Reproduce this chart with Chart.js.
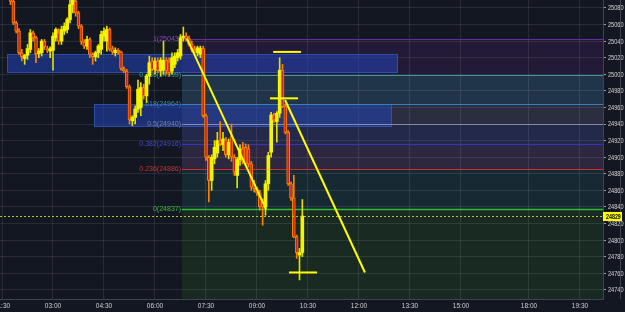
<!DOCTYPE html>
<html>
<head>
<meta charset="utf-8">
<script src="https://cdn.jsdelivr.net/npm/chart.js@4.4.1/dist/chart.umd.min.js"></script>
<style>
html,body{margin:0;padding:0;background:#131722;overflow:hidden}
canvas{display:block}
</style>
</head>
<body>
<canvas id="chart" width="625" height="312"></canvas>
<script>
// ================= DATA =================
// 5-minute candles, index 0 = 01:30 (session hours, 16:00-17:00 break removed)
const opens  = [25104,25099,25096,25094,25088,25062,25052,25026,25019,25023,25030,25050,25044,25025,25026,25040,25030,25028,25029,25044,25050,25040,25052,25054,25066,25084,25088,25074,25058,25039,25034,25042,25024,25021,25026,25030,25046,25040,25054,25031,25026,25029,25027,25007,25004,24985,24944,24948,24958,24960,24984,24974,24998,25016,25006,25016,25004,25005,25017,25015,25004,25012,25020,25022,25044,25046,25043,25036,25030,25026,25024,25031,24950,24900,24872,24898,24905,24920,24915,24921,24903,24925,24900,24878,24897,24910,24912,24910,24892,24868,24862,24857,24846,24840,24868,24906,24951,24943,24953,25005,24961,24930,24868,24851,24804,24782,24785];
const highs  = [25110,25104,25101,25097,25090,25064,25055,25030,25024,25036,25054,25052,25046,25031,25042,25042,25034,25033,25050,25056,25055,25058,25062,25068,25090,25096,25094,25076,25060,25042,25046,25044,25026,25028,25036,25052,25056,25058,25056,25034,25032,25031,25028,25009,25006,24987,24950,24962,24993,24990,24988,25000,25022,25020,25020,25020,25020,25040,25020,25020,25026,25026,25030,25048,25057,25050,25046,25040,25034,25034,25034,25034,24952,24902,24903,24920,24930,24943,24930,24924,24922,24940,24903,24900,24915,24918,24916,24915,24895,24872,24864,24860,24850,24872,24906,24954,24953,24955,25020,25012,24964,24932,24870,24878,24806,24790,24849];
const lows   = [25096,25093,25091,25084,25060,25050,25024,25016,25012,25018,25026,25040,25014,25020,25022,25030,25026,25020,25005,25040,25036,25036,25048,25050,25062,25074,25070,25055,25036,25031,25030,25020,25012,25016,25020,25024,25040,25028,25028,25024,25022,25024,25005,25002,24983,24940,24938,24940,24954,24950,24970,24966,24988,25004,25000,25002,24998,25000,25000,24998,25000,25008,25016,25018,25040,25040,25034,25027,25024,25022,25020,24948,24896,24846,24860,24892,24900,24914,24908,24900,24898,24895,24878,24863,24890,24892,24890,24888,24860,24858,24854,24836,24818,24830,24860,24900,24942,24918,24948,24960,24928,24866,24848,24803,24778,24752,24780];
const closes = [25099,25096,25094,25088,25062,25052,25026,25021,25023,25031,25050,25044,25025,25028,25040,25033,25029,25031,25046,25054,25040,25054,25058,25066,25084,25090,25074,25058,25039,25034,25042,25024,25021,25026,25034,25048,25052,25054,25030,25027,25029,25027,25007,25004,24985,24945,24948,24958,24982,24984,24974,24998,25014,25006,25016,25004,25017,25017,25004,25002,25020,25022,25026,25044,25046,25043,25036,25030,25028,25032,25031,24950,24900,24872,24900,24912,24920,24916,24922,24903,24918,24900,24882,24897,24910,24895,24892,24892,24864,24862,24857,24840,24840,24868,24902,24951,24945,24953,25005,24961,24930,24868,24851,24804,24785,24785,24829];

// time axis ticks (candle index) and labels
const xTickIdx    = [0, 18, 36, 54, 72, 90, 108, 126, 144, 162, 186, 204];
const xTickLabels = ["01:30","03:00","04:30","06:00","07:30","09:00","10:30","12:00","13:30","15:00","18:00","19:30"];
const yTickValues = [24740,24760,24780,24800,24820,24840,24860,24880,24900,24920,24940,24960,24980,25000,25020,25040,25060,25080];

// fibonacci retracement
const fibRatios = ["1","0.786","0.618","0.5","0.382","0.236","0"];
const fibPrices = [25043, 24999, 24964, 24940, 24916, 24886, 24837];
const fibStartIdx = 63.5;

// supply / demand zones
const zoneStart  = [1.8, 32.5];
const zoneEnd    = [139.7, 137.6];
const zoneTop    = [25024, 24964];
const zoneBottom = [25002, 24937];

// drawn trend lines
const trendX1 = [65.3, 99.9];
const trendY1 = [25043, 24969];
const trendX2 = [93.2, 128.1];
const trendY2 = [24837, 24761];

// short horizontal markers
const markX1 = [95.7, 94.6, 101.3];
const markX2 = [105.5, 104.5, 111.2];
const markPrice = [25027, 24971, 24761];

const lastPrice = 24829;

// ================= STYLE =================
const BG = "#131722";
const UP = "#f4f400";
const DOWN_FILL = "#c9261a";
const DOWN_EDGE = "#ff7f00";
const FONT = '"Liberation Sans", Arial, sans-serif';
const fibLineColors  = ["#6b2c9c","#3a9e98","#3a7fb8","#8a8aa6","#3434c4","#cc2f2f","#2fbf2f"];
const fibLabelColors = ["#9a3fc8","#3aa89a","#3d8fb5","#7b809c","#4848d0","#c83434","#34c034"];
const fibBandColors  = ["#221a37","#20344a","#2b2e40","#22294b","#2d2740","#172a33","#182a22"];

const isUp = i => closes[i] >= opens[i];
const idx = opens.map((_, i) => i);

// narrow text: squeeze horizontally so 5 digits fit the thin price axis
function narrowText(ctx, txt, x, y, squeeze){
    ctx.save();
    ctx.translate(x, y);
    ctx.scale(squeeze, 1);
    ctx.fillText(txt, 0, 0);
    ctx.restore();
}

// ================= OVERLAY PLUGIN =================
const overlay = {
    id: "overlay",
    beforeDraw(chart){
        const {ctx, chartArea: a, scales: {x, y}} = chart;
        ctx.save();
        ctx.fillStyle = BG;
        ctx.fillRect(0, 0, chart.width, chart.height);
        const fx = Math.round(x.getPixelForValue(fibStartIdx));
        fibPrices.forEach((p, i) => {
            const top = Math.round(y.getPixelForValue(p));
            const bot = i < fibPrices.length - 1 ? Math.round(y.getPixelForValue(fibPrices[i+1])) : a.bottom;
            ctx.fillStyle = fibBandColors[i];
            ctx.fillRect(fx, top, a.right - fx, bot - top);
        });
        ctx.restore();
    },
    beforeDatasetsDraw(chart){
        const {ctx, chartArea: a, scales: {x, y}} = chart;
        ctx.save();
        // zones
        zoneStart.forEach((s, i) => {
            const x0 = Math.round(x.getPixelForValue(s));
            const x1 = Math.round(x.getPixelForValue(zoneEnd[i]));
            const y0 = Math.round(y.getPixelForValue(zoneTop[i]));
            const y1 = Math.round(y.getPixelForValue(zoneBottom[i]));
            ctx.fillStyle = "rgba(34,66,180,0.56)";
            ctx.fillRect(x0, y0, x1 - x0, y1 - y0);
            ctx.strokeStyle = "rgba(60,100,215,0.55)";
            ctx.lineWidth = 1;
            ctx.strokeRect(x0 + 0.5, y0 + 0.5, x1 - x0 - 1, y1 - y0 - 1);
        });
        // fib lines + labels
        const fx = Math.round(x.getPixelForValue(fibStartIdx));
        ctx.font = "7px " + FONT;
        ctx.textAlign = "right";
        ctx.textBaseline = "middle";
        fibPrices.forEach((p, i) => {
            const py = Math.round(y.getPixelForValue(p)) + 0.5;
            ctx.strokeStyle = fibLineColors[i];
            ctx.lineWidth = i === fibPrices.length - 1 ? 1.5 : 1;
            ctx.beginPath();
            ctx.moveTo(fx, py);
            ctx.lineTo(a.right, py);
            ctx.stroke();
            ctx.fillStyle = fibLabelColors[i];
            ctx.fillText(fibRatios[i] + "(" + p + ")", fx - 1, py);
        });
        ctx.restore();
    },
    afterDraw(chart){
        const {ctx, chartArea: a, scales: {x, y}} = chart;
        ctx.save();
        // price axis labels
        ctx.font = "7px " + FONT;
        ctx.fillStyle = "#d4d4d4";
        ctx.textAlign = "left";
        ctx.textBaseline = "middle";
        yTickValues.forEach(v => {
            narrowText(ctx, String(v), a.right + 5, y.getPixelForValue(v) + 0.5, 0.8);
        });
        // last price dotted line
        const py = Math.round(y.getPixelForValue(lastPrice)) + 0.5;
        ctx.strokeStyle = "#bcbc30";
        ctx.lineWidth = 1;
        ctx.setLineDash([2, 2]);
        ctx.beginPath();
        ctx.moveTo(a.left, py);
        ctx.lineTo(a.right, py);
        ctx.stroke();
        ctx.setLineDash([]);
        // axis frame lines
        ctx.strokeStyle = "#40444f";
        ctx.beginPath();
        ctx.moveTo(0, a.bottom + 0.5);
        ctx.lineTo(a.right, a.bottom + 0.5);
        ctx.moveTo(620.5, 0);
        ctx.lineTo(620.5, a.bottom);
        ctx.stroke();
        // price tag
        ctx.fillStyle = "#ffff00";
        ctx.fillRect(a.right, py - 4.5, 19, 9);
        ctx.fillStyle = "#000";
        ctx.font = "bold 7px " + FONT;
        narrowText(ctx, String(lastPrice), a.right + 3, py + 0.5, 0.76);
        // time labels
        ctx.font = "6.5px " + FONT;
        ctx.fillStyle = "#d0d0d0";
        ctx.textAlign = "center";
        xTickIdx.forEach((v, i) => {
            ctx.fillText(xTickLabels[i], x.getPixelForValue(v), a.bottom + 7);
        });
        ctx.restore();
    }
};

// ================= CHART =================
const wickColor = c => isUp(c.dataIndex) ? "#e0e000" : DOWN_EDGE;

new Chart(document.getElementById("chart"), {
    type: "bar",
    data: {
        datasets: [
            {
                type: "line",
                order: 1,
                data: [{x: trendX1[0], y: trendY1[0]}, {x: trendX2[0], y: trendY2[0]}],
                borderColor: "#ffff00", borderWidth: 2, pointRadius: 0
            },
            {
                type: "line",
                order: 1,
                data: [{x: trendX1[1], y: trendY1[1]}, {x: trendX2[1], y: trendY2[1]}],
                borderColor: "#ffff00", borderWidth: 2, pointRadius: 0
            },
            ...markPrice.map((p, i) => ({
                type: "line",
                order: 1,
                data: [{x: markX1[i], y: p}, {x: markX2[i], y: p}],
                borderColor: "#ffff00", borderWidth: 2, pointRadius: 0
            })),
            {
                order: 2,
                grouped: false,
                barThickness: 3,
                borderSkipped: false,
                data: idx.map(i => ({x: i, y: [opens[i], closes[i]]})),
                backgroundColor: c => isUp(c.dataIndex) ? UP : DOWN_FILL,
                borderColor: c => isUp(c.dataIndex) ? UP : DOWN_EDGE,
                borderWidth: c => isUp(c.dataIndex) ? 0 : 1
            },
            {
                order: 3,
                grouped: false,
                barThickness: 1,
                borderSkipped: false,
                data: idx.map(i => ({x: i, y: [lows[i], highs[i]]})),
                backgroundColor: wickColor,
                borderWidth: 0
            }
        ]
    },
    options: {
        responsive: false,
        devicePixelRatio: 1,
        animation: false,
        layout: {padding: {left: 0, top: 0, right: 0, bottom: 13}},
        plugins: {legend: {display: false}, tooltip: {enabled: false}},
        scales: {
            x: {
                type: "linear",
                offset: false,
                min: -0.706,
                max: 212.12,
                afterBuildTicks: s => { s.ticks = xTickIdx.map(v => ({value: v})); },
                ticks: {display: false},
                grid: {color: "rgba(255,255,255,0.09)", drawTicks: false, offset: false},
                border: {display: false}
            },
            y: {
                type: "linear",
                position: "right",
                min: 24729,
                max: 25089.6,
                afterBuildTicks: s => { s.ticks = yTickValues.map(v => ({value: v})); },
                afterFit: s => { s.width = 22; s.paddingTop = 0; s.paddingBottom = 0; },
                ticks: {display: false},
                grid: {color: "rgba(255,255,255,0.09)", tickColor: "#9a9ea8", tickLength: 3},
                border: {color: "#40444f"}
            }
        }
    },
    plugins: [overlay]
});
</script>
</body>
</html>
